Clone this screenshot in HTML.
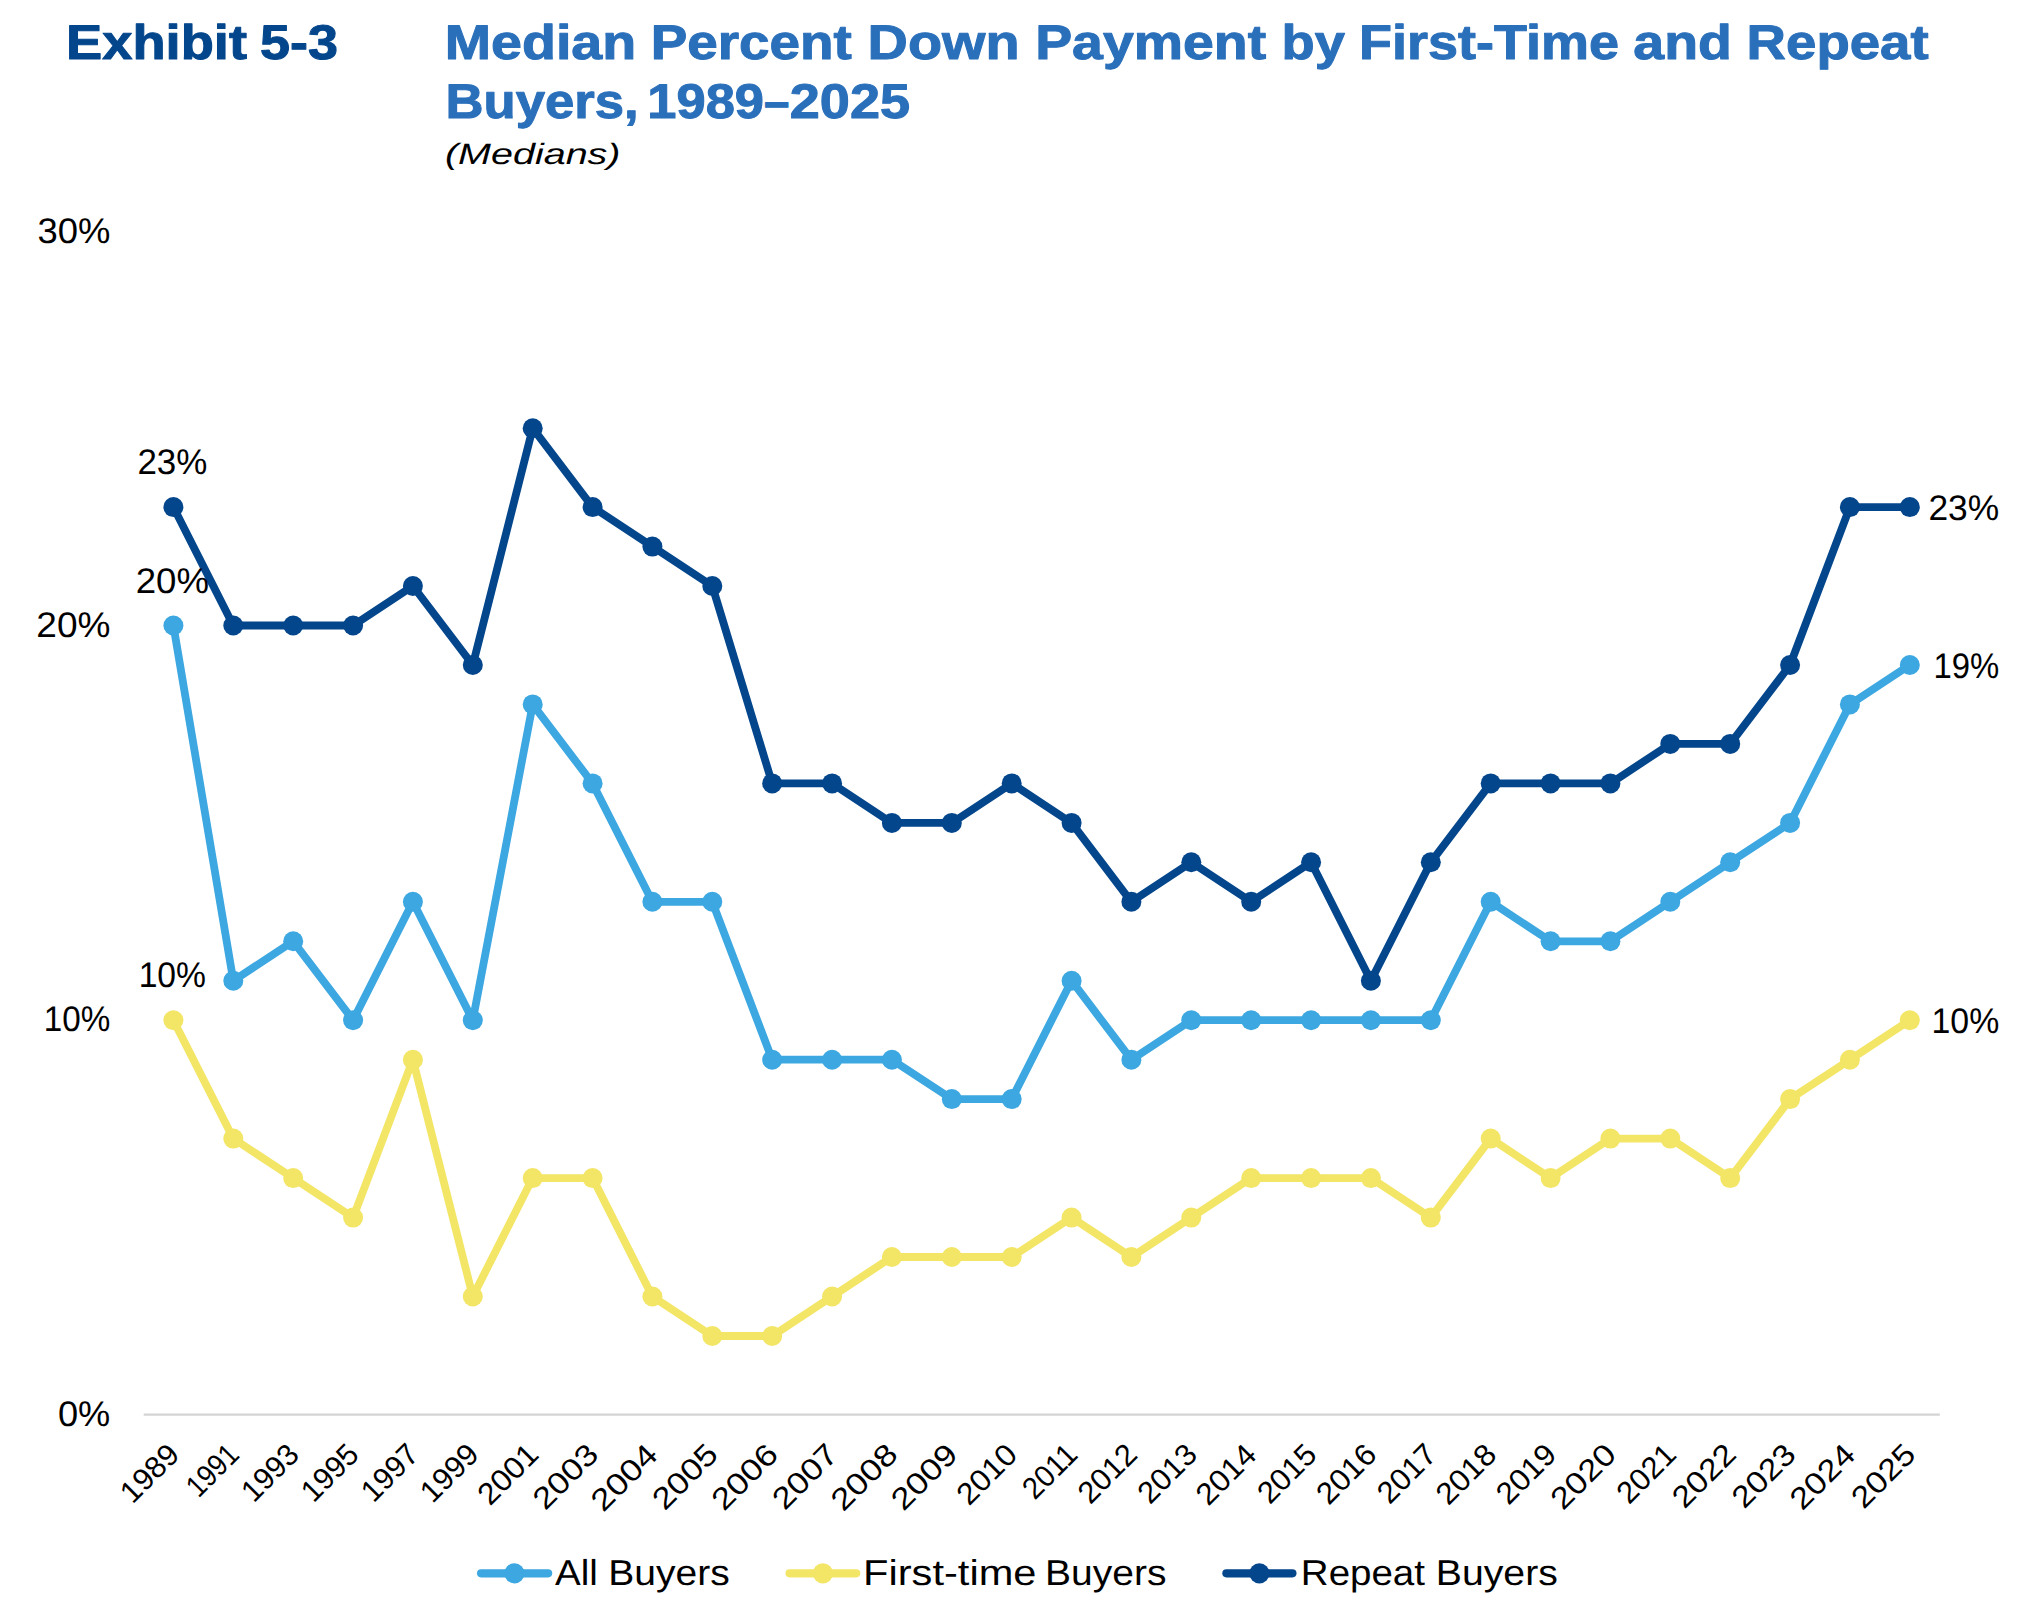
<!DOCTYPE html>
<html lang="en">
<head>
<meta charset="utf-8">
<title>Exhibit 5-3 Median Percent Down Payment by First-Time and Repeat Buyers, 1989–2025</title>
<style>
html,body{margin:0;padding:0;background:#fff;}
body{width:2030px;height:1620px;overflow:hidden;}
svg{display:block;}
text{font-family:"Liberation Sans", sans-serif;text-rendering:geometricPrecision;}
</style>
</head>
<body>
<svg width="2030" height="1620" viewBox="0 0 2030 1620" role="img" aria-label="Line chart of median percent down payment for all buyers, first-time buyers and repeat buyers, 1989 to 2025">
<rect width="2030" height="1620" fill="#fff"/>
<line x1="143.7" y1="1414.6" x2="1939.8" y2="1414.6" stroke="#d4d4d4" stroke-width="2.2"/>
<g fill="#3ca7e0" stroke="none">
<polyline points="173.4,625.5 233.3,980.7 293.2,941.3 353.1,1020.2 412.9,901.8 472.8,1020.2 532.7,704.4 592.6,783.4 652.4,901.8 712.3,901.8 772.2,1059.7 832.1,1059.7 891.9,1059.7 951.8,1099.1 1011.7,1099.1 1071.6,980.7 1131.4,1059.7 1191.3,1020.2 1251.2,1020.2 1311.1,1020.2 1370.9,1020.2 1430.8,1020.2 1490.7,901.8 1550.6,941.3 1610.4,941.3 1670.3,901.8 1730.2,862.3 1790.1,822.9 1849.9,704.4 1909.8,665.0" fill="none" stroke="#3ca7e0" stroke-width="7.8" stroke-linejoin="round" stroke-linecap="round"/>
<circle cx="173.4" cy="625.5" r="10.0"/><circle cx="233.3" cy="980.7" r="10.0"/><circle cx="293.2" cy="941.3" r="10.0"/><circle cx="353.1" cy="1020.2" r="10.0"/><circle cx="412.9" cy="901.8" r="10.0"/><circle cx="472.8" cy="1020.2" r="10.0"/><circle cx="532.7" cy="704.4" r="10.0"/><circle cx="592.6" cy="783.4" r="10.0"/><circle cx="652.4" cy="901.8" r="10.0"/><circle cx="712.3" cy="901.8" r="10.0"/><circle cx="772.2" cy="1059.7" r="10.0"/><circle cx="832.1" cy="1059.7" r="10.0"/><circle cx="891.9" cy="1059.7" r="10.0"/><circle cx="951.8" cy="1099.1" r="10.0"/><circle cx="1011.7" cy="1099.1" r="10.0"/><circle cx="1071.6" cy="980.7" r="10.0"/><circle cx="1131.4" cy="1059.7" r="10.0"/><circle cx="1191.3" cy="1020.2" r="10.0"/><circle cx="1251.2" cy="1020.2" r="10.0"/><circle cx="1311.1" cy="1020.2" r="10.0"/><circle cx="1370.9" cy="1020.2" r="10.0"/><circle cx="1430.8" cy="1020.2" r="10.0"/><circle cx="1490.7" cy="901.8" r="10.0"/><circle cx="1550.6" cy="941.3" r="10.0"/><circle cx="1610.4" cy="941.3" r="10.0"/><circle cx="1670.3" cy="901.8" r="10.0"/><circle cx="1730.2" cy="862.3" r="10.0"/><circle cx="1790.1" cy="822.9" r="10.0"/><circle cx="1849.9" cy="704.4" r="10.0"/><circle cx="1909.8" cy="665.0" r="10.0"/>
</g>
<g fill="#f3e566" stroke="none">
<polyline points="173.4,1020.2 233.3,1138.6 293.2,1178.1 353.1,1217.6 412.9,1059.7 472.8,1296.5 532.7,1178.1 592.6,1178.1 652.4,1296.5 712.3,1336.0 772.2,1336.0 832.1,1296.5 891.9,1257.0 951.8,1257.0 1011.7,1257.0 1071.6,1217.6 1131.4,1257.0 1191.3,1217.6 1251.2,1178.1 1311.1,1178.1 1370.9,1178.1 1430.8,1217.6 1490.7,1138.6 1550.6,1178.1 1610.4,1138.6 1670.3,1138.6 1730.2,1178.1 1790.1,1099.1 1849.9,1059.7 1909.8,1020.2" fill="none" stroke="#f3e566" stroke-width="7.8" stroke-linejoin="round" stroke-linecap="round"/>
<circle cx="173.4" cy="1020.2" r="10.0"/><circle cx="233.3" cy="1138.6" r="10.0"/><circle cx="293.2" cy="1178.1" r="10.0"/><circle cx="353.1" cy="1217.6" r="10.0"/><circle cx="412.9" cy="1059.7" r="10.0"/><circle cx="472.8" cy="1296.5" r="10.0"/><circle cx="532.7" cy="1178.1" r="10.0"/><circle cx="592.6" cy="1178.1" r="10.0"/><circle cx="652.4" cy="1296.5" r="10.0"/><circle cx="712.3" cy="1336.0" r="10.0"/><circle cx="772.2" cy="1336.0" r="10.0"/><circle cx="832.1" cy="1296.5" r="10.0"/><circle cx="891.9" cy="1257.0" r="10.0"/><circle cx="951.8" cy="1257.0" r="10.0"/><circle cx="1011.7" cy="1257.0" r="10.0"/><circle cx="1071.6" cy="1217.6" r="10.0"/><circle cx="1131.4" cy="1257.0" r="10.0"/><circle cx="1191.3" cy="1217.6" r="10.0"/><circle cx="1251.2" cy="1178.1" r="10.0"/><circle cx="1311.1" cy="1178.1" r="10.0"/><circle cx="1370.9" cy="1178.1" r="10.0"/><circle cx="1430.8" cy="1217.6" r="10.0"/><circle cx="1490.7" cy="1138.6" r="10.0"/><circle cx="1550.6" cy="1178.1" r="10.0"/><circle cx="1610.4" cy="1138.6" r="10.0"/><circle cx="1670.3" cy="1138.6" r="10.0"/><circle cx="1730.2" cy="1178.1" r="10.0"/><circle cx="1790.1" cy="1099.1" r="10.0"/><circle cx="1849.9" cy="1059.7" r="10.0"/><circle cx="1909.8" cy="1020.2" r="10.0"/>
</g>
<g fill="#04468c" stroke="none">
<polyline points="173.4,507.1 233.3,625.5 293.2,625.5 353.1,625.5 412.9,586.0 472.8,665.0 532.7,428.2 592.6,507.1 652.4,546.6 712.3,586.0 772.2,783.4 832.1,783.4 891.9,822.9 951.8,822.9 1011.7,783.4 1071.6,822.9 1131.4,901.8 1191.3,862.3 1251.2,901.8 1311.1,862.3 1370.9,980.7 1430.8,862.3 1490.7,783.4 1550.6,783.4 1610.4,783.4 1670.3,743.9 1730.2,743.9 1790.1,665.0 1849.9,507.1 1909.8,507.1" fill="none" stroke="#04468c" stroke-width="7.8" stroke-linejoin="round" stroke-linecap="round"/>
<circle cx="173.4" cy="507.1" r="10.0"/><circle cx="233.3" cy="625.5" r="10.0"/><circle cx="293.2" cy="625.5" r="10.0"/><circle cx="353.1" cy="625.5" r="10.0"/><circle cx="412.9" cy="586.0" r="10.0"/><circle cx="472.8" cy="665.0" r="10.0"/><circle cx="532.7" cy="428.2" r="10.0"/><circle cx="592.6" cy="507.1" r="10.0"/><circle cx="652.4" cy="546.6" r="10.0"/><circle cx="712.3" cy="586.0" r="10.0"/><circle cx="772.2" cy="783.4" r="10.0"/><circle cx="832.1" cy="783.4" r="10.0"/><circle cx="891.9" cy="822.9" r="10.0"/><circle cx="951.8" cy="822.9" r="10.0"/><circle cx="1011.7" cy="783.4" r="10.0"/><circle cx="1071.6" cy="822.9" r="10.0"/><circle cx="1131.4" cy="901.8" r="10.0"/><circle cx="1191.3" cy="862.3" r="10.0"/><circle cx="1251.2" cy="901.8" r="10.0"/><circle cx="1311.1" cy="862.3" r="10.0"/><circle cx="1370.9" cy="980.7" r="10.0"/><circle cx="1430.8" cy="862.3" r="10.0"/><circle cx="1490.7" cy="783.4" r="10.0"/><circle cx="1550.6" cy="783.4" r="10.0"/><circle cx="1610.4" cy="783.4" r="10.0"/><circle cx="1670.3" cy="743.9" r="10.0"/><circle cx="1730.2" cy="743.9" r="10.0"/><circle cx="1790.1" cy="665.0" r="10.0"/><circle cx="1849.9" cy="507.1" r="10.0"/><circle cx="1909.8" cy="507.1" r="10.0"/>
</g>
<line x1="481.1" y1="1573.3" x2="548.1" y2="1573.3" stroke="#3ca7e0" stroke-width="8.2" stroke-linecap="round"/><circle cx="514.4" cy="1573.3" r="10.1" fill="#3ca7e0"/>
<line x1="789.6" y1="1573.3" x2="856.2" y2="1573.3" stroke="#f3e566" stroke-width="8.2" stroke-linecap="round"/><circle cx="822.9" cy="1573.3" r="10.1" fill="#f3e566"/>
<line x1="1226.4" y1="1573.3" x2="1292.4" y2="1573.3" stroke="#04468c" stroke-width="8.2" stroke-linecap="round"/><circle cx="1259.4" cy="1573.3" r="10.1" fill="#04468c"/>
<text y="59.0" font-size="48.8" fill="#04468c" font-weight="bold" stroke="#04468c" stroke-width="1.0" stroke-linejoin="round"><tspan x="66.02" textLength="180.95" lengthAdjust="spacingAndGlyphs">Exhibit</tspan> <tspan x="260.00" textLength="78.03" lengthAdjust="spacingAndGlyphs">5-3</tspan></text>
<text y="59.0" font-size="48.8" fill="#2a6fba" font-weight="bold" stroke="#2a6fba" stroke-width="1.0" stroke-linejoin="round"><tspan x="444.75" textLength="191.48" lengthAdjust="spacingAndGlyphs">Median</tspan> <tspan x="650.69" textLength="201.20" lengthAdjust="spacingAndGlyphs">Percent</tspan> <tspan x="867.63" textLength="152.07" lengthAdjust="spacingAndGlyphs">Down</tspan> <tspan x="1035.16" textLength="230.96" lengthAdjust="spacingAndGlyphs">Payment</tspan> <tspan x="1281.55" textLength="63.35" lengthAdjust="spacingAndGlyphs">by</tspan> <tspan x="1359.14" textLength="259.90" lengthAdjust="spacingAndGlyphs">First-Time</tspan> <tspan x="1633.31" textLength="98.58" lengthAdjust="spacingAndGlyphs">and</tspan> <tspan x="1746.61" textLength="182.02" lengthAdjust="spacingAndGlyphs">Repeat</tspan></text>
<text y="118.0" font-size="48.8" fill="#2a6fba" font-weight="bold" stroke="#2a6fba" stroke-width="1.0" stroke-linejoin="round"><tspan x="445.62" textLength="193.12" lengthAdjust="spacingAndGlyphs">Buyers,</tspan> <tspan x="647.32" textLength="116.73" lengthAdjust="spacingAndGlyphs">1989</tspan><tspan x="763.88" textLength="25.35" lengthAdjust="spacingAndGlyphs">–</tspan><tspan x="789.73" textLength="120.34" lengthAdjust="spacingAndGlyphs">2025</tspan></text>
<text x="444.97" y="164.0" font-size="29.5" fill="#000" font-style="italic" textLength="175.55" lengthAdjust="spacingAndGlyphs">(Medians)</text>
<text x="37.47" y="243.0" font-size="35.6" fill="#000" textLength="72.88" lengthAdjust="spacingAndGlyphs">30%</text>
<text x="36.33" y="637.0" font-size="35.6" fill="#000" textLength="74.15" lengthAdjust="spacingAndGlyphs">20%</text>
<text x="43.67" y="1031.0" font-size="35.6" fill="#000" textLength="66.55" lengthAdjust="spacingAndGlyphs">10%</text>
<text x="57.96" y="1426.0" font-size="35.6" fill="#000" textLength="52.31" lengthAdjust="spacingAndGlyphs">0%</text>
<text x="137.44" y="474.0" font-size="35.6" fill="#000" textLength="69.96" lengthAdjust="spacingAndGlyphs">23%</text>
<text x="135.65" y="593.0" font-size="35.6" fill="#000" textLength="73.31" lengthAdjust="spacingAndGlyphs">20%</text>
<text x="138.64" y="987.0" font-size="35.6" fill="#000" textLength="67.40" lengthAdjust="spacingAndGlyphs">10%</text>
<text x="1928.41" y="520.0" font-size="35.6" fill="#000" textLength="70.80" lengthAdjust="spacingAndGlyphs">23%</text>
<text x="1933.40" y="678.0" font-size="35.6" fill="#000" textLength="65.81" lengthAdjust="spacingAndGlyphs">19%</text>
<text x="1931.53" y="1033.0" font-size="35.6" fill="#000" textLength="67.72" lengthAdjust="spacingAndGlyphs">10%</text>
<text y="1585.0" font-size="36.0" fill="#000"><tspan x="554.98" textLength="42.83" lengthAdjust="spacingAndGlyphs">All</tspan> <tspan x="608.30" textLength="121.41" lengthAdjust="spacingAndGlyphs">Buyers</tspan></text>
<text y="1585.0" font-size="36.0" fill="#000"><tspan x="863.09" textLength="173.38" lengthAdjust="spacingAndGlyphs">First-time</tspan> <tspan x="1045.10" textLength="121.31" lengthAdjust="spacingAndGlyphs">Buyers</tspan></text>
<text y="1585.0" font-size="36.0" fill="#000"><tspan x="1300.84" textLength="124.16" lengthAdjust="spacingAndGlyphs">Repeat</tspan> <tspan x="1435.78" textLength="122.04" lengthAdjust="spacingAndGlyphs">Buyers</tspan></text>
<text transform="translate(180.7,1456.6) rotate(-45)" x="-68.07" y="0" font-size="30.5" fill="#000" textLength="68.49" lengthAdjust="spacingAndGlyphs">1989</text>
<text transform="translate(240.6,1456.6) rotate(-45)" x="-59.67" y="0" font-size="30.5" fill="#000" textLength="59.90" lengthAdjust="spacingAndGlyphs">1991</text>
<text transform="translate(300.5,1456.6) rotate(-45)" x="-66.20" y="0" font-size="30.5" fill="#000" textLength="66.48" lengthAdjust="spacingAndGlyphs">1993</text>
<text transform="translate(360.4,1456.6) rotate(-45)" x="-66.51" y="0" font-size="30.5" fill="#000" textLength="66.72" lengthAdjust="spacingAndGlyphs">1995</text>
<text transform="translate(420.2,1456.6) rotate(-45)" x="-66.20" y="0" font-size="30.5" fill="#000" textLength="66.62" lengthAdjust="spacingAndGlyphs">1997</text>
<text transform="translate(480.1,1456.6) rotate(-45)" x="-67.44" y="0" font-size="30.5" fill="#000" textLength="67.85" lengthAdjust="spacingAndGlyphs">1999</text>
<text transform="translate(540.0,1456.6) rotate(-45)" x="-70.81" y="0" font-size="30.5" fill="#000" textLength="71.28" lengthAdjust="spacingAndGlyphs">2001</text>
<text transform="translate(599.9,1456.6) rotate(-45)" x="-77.26" y="0" font-size="30.5" fill="#000" textLength="77.76" lengthAdjust="spacingAndGlyphs">2003</text>
<text transform="translate(659.7,1456.6) rotate(-45)" x="-79.70" y="0" font-size="30.5" fill="#000" textLength="79.64" lengthAdjust="spacingAndGlyphs">2004</text>
<text transform="translate(719.6,1456.6) rotate(-45)" x="-77.57" y="0" font-size="30.5" fill="#000" textLength="77.99" lengthAdjust="spacingAndGlyphs">2005</text>
<text transform="translate(779.5,1456.6) rotate(-45)" x="-78.49" y="0" font-size="30.5" fill="#000" textLength="79.01" lengthAdjust="spacingAndGlyphs">2006</text>
<text transform="translate(839.4,1456.6) rotate(-45)" x="-77.27" y="0" font-size="30.5" fill="#000" textLength="77.92" lengthAdjust="spacingAndGlyphs">2007</text>
<text transform="translate(899.2,1456.6) rotate(-45)" x="-79.10" y="0" font-size="30.5" fill="#000" textLength="79.62" lengthAdjust="spacingAndGlyphs">2008</text>
<text transform="translate(959.1,1456.6) rotate(-45)" x="-78.49" y="0" font-size="30.5" fill="#000" textLength="79.14" lengthAdjust="spacingAndGlyphs">2009</text>
<text transform="translate(1019.0,1456.6) rotate(-45)" x="-70.81" y="0" font-size="30.5" fill="#000" textLength="71.01" lengthAdjust="spacingAndGlyphs">2010</text>
<text transform="translate(1078.9,1456.6) rotate(-45)" x="-62.27" y="0" font-size="30.5" fill="#000" textLength="62.84" lengthAdjust="spacingAndGlyphs">2011</text>
<text transform="translate(1138.7,1456.6) rotate(-45)" x="-68.67" y="0" font-size="30.5" fill="#000" textLength="69.14" lengthAdjust="spacingAndGlyphs">2012</text>
<text transform="translate(1198.6,1456.6) rotate(-45)" x="-68.66" y="0" font-size="30.5" fill="#000" textLength="68.99" lengthAdjust="spacingAndGlyphs">2013</text>
<text transform="translate(1258.5,1456.6) rotate(-45)" x="-71.11" y="0" font-size="30.5" fill="#000" textLength="70.94" lengthAdjust="spacingAndGlyphs">2014</text>
<text transform="translate(1318.4,1456.6) rotate(-45)" x="-68.97" y="0" font-size="30.5" fill="#000" textLength="69.23" lengthAdjust="spacingAndGlyphs">2015</text>
<text transform="translate(1378.2,1456.6) rotate(-45)" x="-69.89" y="0" font-size="30.5" fill="#000" textLength="70.24" lengthAdjust="spacingAndGlyphs">2016</text>
<text transform="translate(1438.1,1456.6) rotate(-45)" x="-68.67" y="0" font-size="30.5" fill="#000" textLength="69.14" lengthAdjust="spacingAndGlyphs">2017</text>
<text transform="translate(1498.0,1456.6) rotate(-45)" x="-70.51" y="0" font-size="30.5" fill="#000" textLength="70.86" lengthAdjust="spacingAndGlyphs">2018</text>
<text transform="translate(1557.9,1456.6) rotate(-45)" x="-69.89" y="0" font-size="30.5" fill="#000" textLength="70.35" lengthAdjust="spacingAndGlyphs">2019</text>
<text transform="translate(1617.7,1456.6) rotate(-45)" x="-77.26" y="0" font-size="30.5" fill="#000" textLength="77.57" lengthAdjust="spacingAndGlyphs">2020</text>
<text transform="translate(1677.6,1456.6) rotate(-45)" x="-68.67" y="0" font-size="30.5" fill="#000" textLength="69.09" lengthAdjust="spacingAndGlyphs">2021</text>
<text transform="translate(1737.5,1456.6) rotate(-45)" x="-75.12" y="0" font-size="30.5" fill="#000" textLength="75.73" lengthAdjust="spacingAndGlyphs">2022</text>
<text transform="translate(1797.4,1456.6) rotate(-45)" x="-75.11" y="0" font-size="30.5" fill="#000" textLength="75.57" lengthAdjust="spacingAndGlyphs">2023</text>
<text transform="translate(1857.2,1456.6) rotate(-45)" x="-77.55" y="0" font-size="30.5" fill="#000" textLength="77.46" lengthAdjust="spacingAndGlyphs">2024</text>
<text transform="translate(1917.1,1456.6) rotate(-45)" x="-75.42" y="0" font-size="30.5" fill="#000" textLength="75.80" lengthAdjust="spacingAndGlyphs">2025</text>
</svg>
</body>
</html>
